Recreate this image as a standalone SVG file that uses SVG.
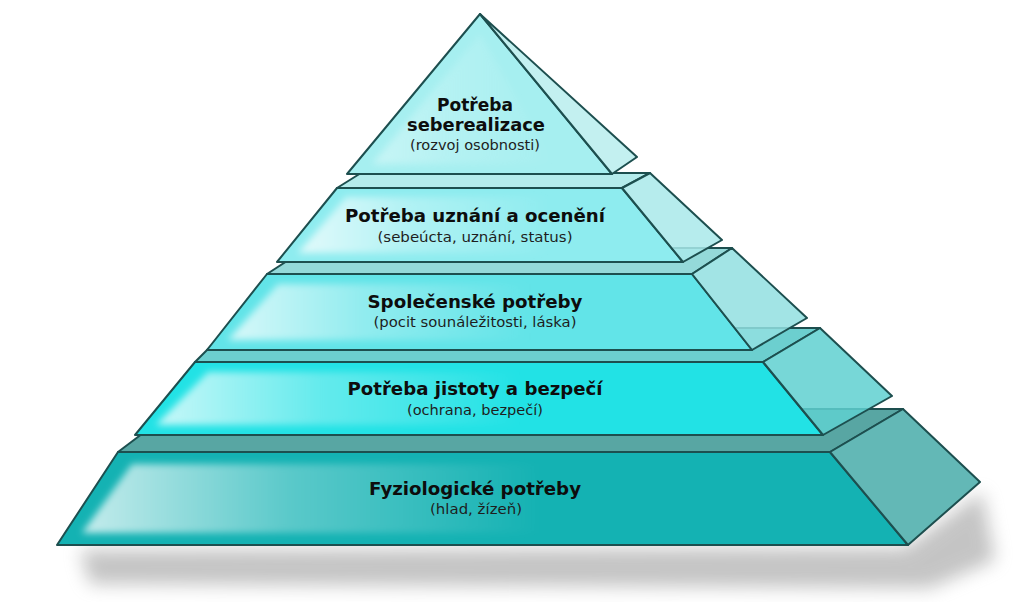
<svg xmlns="http://www.w3.org/2000/svg" width="1024" height="602" viewBox="0 0 1024 602">
<style>
.edge{stroke:#1d4f4f;stroke-width:2;stroke-linejoin:round}
.t{font-family:"DejaVu Sans","Liberation Sans",sans-serif;font-weight:bold;font-size:17px;fill:#0d0d0d;text-anchor:middle}
.s{font-family:"DejaVu Sans","Liberation Sans",sans-serif;font-size:13.5px;fill:#1e1e1e;text-anchor:middle}
.hl{fill:url(#gloss);filter:url(#soft)}
</style>
<defs>
<linearGradient id="gloss" x1="0" y1="0" x2="1" y2="0">
<stop offset="0" stop-color="#fff" stop-opacity="0.75"/>
<stop offset="0.45" stop-color="#fff" stop-opacity="0.3"/>
<stop offset="1" stop-color="#fff" stop-opacity="0"/>
</linearGradient>
<filter id="soft" x="-10%" y="-30%" width="120%" height="160%"><feGaussianBlur stdDeviation="3.5"/></filter>
<filter id="shadowBlur" x="-10%" y="-50%" width="120%" height="200%"><feGaussianBlur stdDeviation="9"/></filter>
</defs>
<rect width="1024" height="602" fill="#fff"/>
<polygon points="80,550 905,548 982,492 995,560 930,588 90,584" fill="#8a8a8a" opacity="0.5" filter="url(#shadowBlur)"/>

<g id="level5">
<polygon class="edge" points="118,452 175,409 903,409 830,452" fill="#58a6a3"/>
<polygon class="edge" points="118,452 830,452 908,545 57,545" fill="#14b2b3"/>
<polygon class="hl" points="132,464 540,464 540,533 82,533"/>
<polygon class="edge" points="830,452 903,409 980,482 908,545" fill="#63b8b6"/>
<text class="t" x="475" y="495" textLength="212" lengthAdjust="spacingAndGlyphs">Fyziologické potřeby</text>
<text class="s" x="476" y="514" textLength="92" lengthAdjust="spacingAndGlyphs">(hlad, žízeň)</text>
</g>

<g id="level4">
<polygon class="edge" points="195,362 229,328 820,328 763,362" fill="#6ccfcf"/>
<polygon class="edge" points="195,362 763,362 823,435 135,435" fill="#22e2e5"/>
<polygon class="hl" points="208,372 520,372 520,425 156,425"/>
<polygon class="edge" points="763,362 820,328 892,396 823,435" fill="#5fd0d0" fill-opacity="0.85"/>
<text class="t" x="475" y="395" textLength="255" lengthAdjust="spacingAndGlyphs">Potřeba jistoty a bezpečí</text>
<text class="s" x="475" y="415" textLength="136" lengthAdjust="spacingAndGlyphs">(ochrana, bezpečí)</text>
</g>

<g id="level3">
<polygon class="edge" points="267,274 307,248 732,248 692,274" fill="#94d9d9"/>
<polygon class="edge" points="267,274 692,274 752,350 207,350" fill="#62e4e8"/>
<polygon class="hl" points="278,284 530,284 530,340 228,340"/>
<polygon class="edge" points="692,274 732,248 807,318 752,350" fill="#92dfe0" fill-opacity="0.85"/>
<text class="t" x="475" y="308" textLength="215" lengthAdjust="spacingAndGlyphs">Společenské potřeby</text>
<text class="s" x="475" y="327" textLength="203" lengthAdjust="spacingAndGlyphs">(pocit sounáležitosti, láska)</text>
</g>

<g id="level2">
<polygon class="edge" points="337,188 361,173 650,173 622,188" fill="#b4ecec"/>
<polygon class="edge" points="337,188 622,188 683,262 277,262" fill="#8eecef"/>
<polygon class="hl" points="346,197 550,197 550,253 298,253"/>
<polygon class="edge" points="622,188 650,173 722,240 683,262" fill="#a9e9ea" fill-opacity="0.85"/>
<text class="t" x="475" y="222" textLength="260" lengthAdjust="spacingAndGlyphs">Potřeba uznání a ocenění</text>
<text class="s" x="475" y="242" textLength="195" lengthAdjust="spacingAndGlyphs">(sebeúcta, uznání, status)</text>
</g>

<g id="level1">
<polygon class="edge" points="480,14 612,174 347,174" fill="#a6eff0"/>
<polygon class="hl" points="480,34 555,164 372,164" opacity="0.5"/>
<polygon class="edge" points="480,14 637,157 612,174" fill="#bdeeee" fill-opacity="0.9"/>
<text class="t" x="475" y="111" textLength="76" lengthAdjust="spacingAndGlyphs">Potřeba</text>
<text class="t" x="476" y="131" textLength="138" lengthAdjust="spacingAndGlyphs">seberealizace</text>
<text class="s" x="475" y="150" textLength="130" lengthAdjust="spacingAndGlyphs">(rozvoj osobnosti)</text>
</g>
</svg>
